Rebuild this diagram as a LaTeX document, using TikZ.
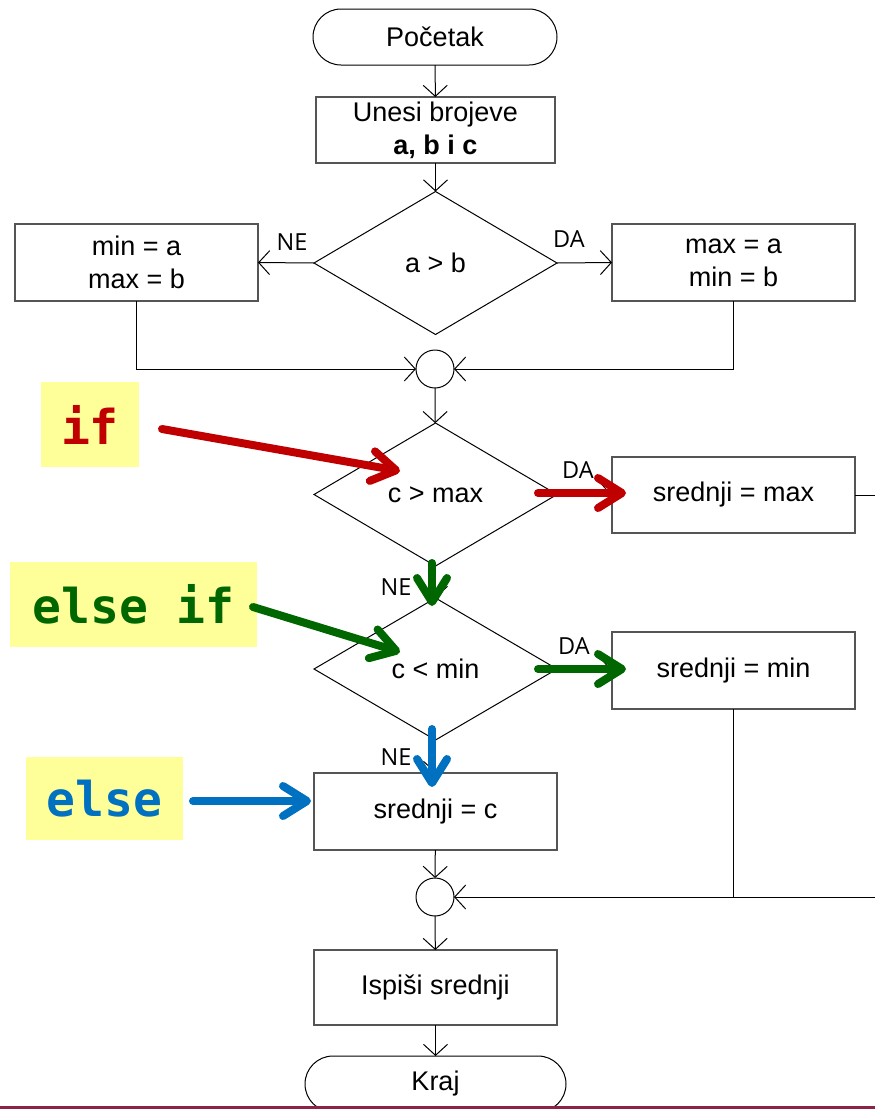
\documentclass[tikz,border=0pt]{standalone}
\usepackage{fontspec}
\setmainfont{Liberation Sans}
\newfontfamily\lblfont{Open Sans}
\newfontfamily\codefont{DejaVu Sans Mono}
\usetikzlibrary{shapes.geometric,arrows.meta,calc}

\definecolor{boxgray}{HTML}{555555}
\definecolor{ifred}{HTML}{C00000}
\definecolor{elifgreen}{HTML}{006600}
\definecolor{elseblue}{HTML}{0070C0}
\definecolor{notebg}{HTML}{FFFF99}
\definecolor{rulemaroon}{HTML}{8B2346}

\tikzset{
  every node/.style={inner sep=0pt, outer sep=0pt},
  txt/.style={font=\fontsize{27}{33}\selectfont, align=center},
  terminal/.style={txt, draw=black, line width=1pt, rounded corners=28pt,
    minimum height=56pt},
  procbox/.style={txt, draw=boxgray, line width=1.3pt, minimum width=243pt},
  decision/.style={txt, draw=black, line width=1pt, diamond,
    minimum width=243pt, minimum height=143pt},
  junction/.style={draw=black, line width=1pt, circle, minimum size=38pt},
  flow/.style={draw=black, line width=1pt,
    -{Straight Barb[length=11pt,width=24pt]}},
  plain/.style={draw=black, line width=1pt},
  branch/.style={font=\lblfont\fontsize{23.5}{26}\selectfont},
  note/.style={fill=notebg, font=\codefont\bfseries\fontsize{48}{52}\selectfont},
  hint/.style={line width=8pt, line cap=round,
    -{Straight Barb[length=24pt,width=30pt,round]}}
}

\begin{document}
\begin{tikzpicture}[x=1pt, y=-1pt]
  \clip (0,0) rectangle (875,1109);

  % flowchart nodes
  \node[terminal, minimum width=244pt] (start) at (435,37) {Početak};
  \node[procbox, minimum height=66pt, minimum width=239pt] (input) at (435.5,130)
    {Unesi brojeve\\\textbf{a, b i c}};
  \node[decision] (ab) at (435.5,263) {a > b};
  \node[procbox, minimum height=77pt] (left) at (136.5,262.5) {min = a\\max = b};
  \node[procbox, minimum height=77pt] (right) at (733.5,262.5) {max = a\\min = b};
  \node[junction] (j1) at (435,369) {};
  \node[decision] (cmax) at (435.5,494.5) {c > max};
  \node[procbox, minimum height=76pt] (smax) at (733.5,495) {srednji = max};
  \node[decision, minimum height=142pt] (cmin) at (435.5,669) {c < min};
  \node[procbox, minimum height=77pt] (smin) at (733.5,670.5) {srednji = min};
  \node[procbox, minimum height=77pt] (sc) at (435.5,811.5) {srednji = c};
  \node[junction] (j2) at (435,897) {};
  \node[procbox, minimum height=75pt] (out) at (435.5,987.5) {Ispiši srednji};
  \node[terminal, minimum width=261pt] (end) at (435.5,1084) {Kraj};

  % connectors
  \draw[flow] (start) -- (input);
  \draw[flow] (input) -- (ab);
  \draw[flow] (ab.west) -- (left.east);
  \draw[flow] (ab.east) -- (right.west);
  \draw[flow] (left.south) |- (j1.west);
  \draw[flow] (right.south) |- (j1.east);
  \draw[flow] (j1) -- (cmax);
  \draw[flow] (cmax.east) -- (smax.west);
  \draw[flow] (cmax.south) -- (cmin.north);
  \draw[flow] (cmin.east) -- (smin.west);
  \draw[flow] (cmin.south) -- (sc.north);
  \draw[flow] (sc) -- (j2);
  \coordinate (rt) at (900,495);
  \draw[flow] (smax.east) -- (rt) |- (j2.east);
  \draw[plain] (smin.south) -- (smin.south |- j2.east);
  \draw[flow] (j2) -- (out);
  \draw[flow] (out) -- (end);

  % branch labels
  \node[branch] at (292,242) {NE};
  \node[branch] at (569,239) {DA};
  \node[branch] at (578,470) {DA};
  \node[branch] at (396,587) {NE};
  \node[branch] at (574,646) {DA};
  \node[branch] at (396,757) {NE};

  % code keyword notes
  \node[note, text=ifred, minimum width=98pt, minimum height=85pt] (kif) at (90,424.5) {if};
  \node[note, text=elifgreen, minimum width=247pt, minimum height=85pt] (kelif) at (133.5,604.5) {else if};
  \node[note, text=elseblue, minimum width=157pt, minimum height=83pt] (kelse) at (104.5,798.5) {else};

  % pointer arrows
  \coordinate (ifA) at (162,429);
  \coordinate (ifB) at (400,471);
  \coordinate (ifC) at (538,493);
  \coordinate (ifD) at (626,493);
  \draw[hint, ifred] (ifA) -- (ifB);
  \draw[hint, ifred] (ifC) -- (ifD);

  \coordinate (elA) at (253,607);
  \coordinate (elB) at (400,652);
  \coordinate (elC) at (432,563);
  \coordinate (elD) at (432,606);
  \coordinate (elE) at (538,669);
  \coordinate (elF) at (626,669);
  \draw[hint, elifgreen] (elA) -- (elB);
  \draw[hint, elifgreen] (elC) -- (elD);
  \draw[hint, elifgreen] (elE) -- (elF);

  \coordinate (esA) at (193,801);
  \coordinate (esB) at (311,801);
  \coordinate (esC) at (432,729);
  \coordinate (esD) at (432,787);
  \draw[hint, elseblue] (esA) -- (esB);
  \draw[hint, elseblue] (esC) -- (esD);

  % footer rule
  \draw[rulemaroon, line width=2.5pt] (0,1107.5) -- (875,1107.5);
\end{tikzpicture}
\end{document}
